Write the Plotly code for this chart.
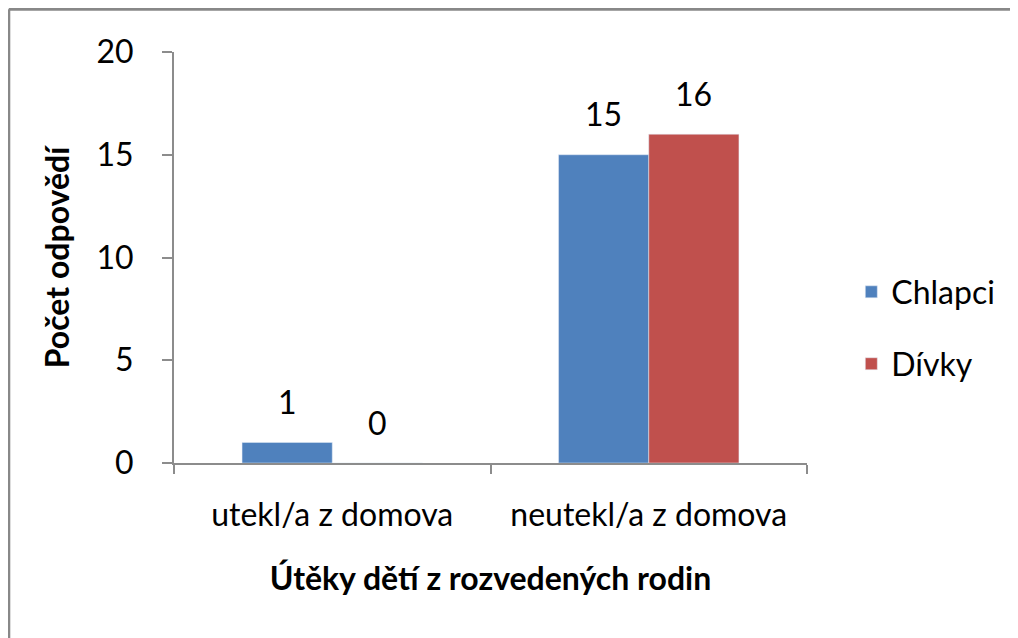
import plotly.graph_objects as go

categories = ["utekl/a z domova", "neutekl/a z domova"]
chlapci = [1, 15]
divky = [0, 16]
y_ticks = [0, 5, 10, 15, 20]

font = "Lato, 'Open Sans', sans-serif"
axis_col = "#8c8c8c"
bargap = 0.43

fig = go.Figure()

fig.add_trace(go.Bar(x=categories, y=chlapci, name="Chlapci",
                     marker=dict(color="#4f81bd"), legend="legend"))
fig.add_trace(go.Bar(x=categories, y=divky, name="Dívky",
                     marker=dict(color="#c0504d"), legend="legend2"))

# value labels above the bars (bar centres sit at +-(1-bargap)/4 of a category)
half = (1 - bargap) / 4
for values, shift in ((chlapci, -half), (divky, half)):
    for i, v in enumerate(values):
        fig.add_annotation(x=i + shift, y=v, text=str(v), showarrow=False,
                           yanchor="middle", yshift=41,
                           font=dict(size=32, color="#000000"))

fig.update_layout(
    width=1010, height=630,
    margin=dict(l=166, r=211, t=44, b=175),
    paper_bgcolor="white", plot_bgcolor="white",
    barmode="group", bargap=bargap, bargroupgap=0,
    showlegend=True,
    font=dict(family=font, size=32, color="#000000"),
    legend=dict(x=1.07, y=0.416, xanchor="left", yanchor="middle",
                font=dict(size=32), bgcolor="rgba(0,0,0,0)"),
    legend2=dict(x=1.07, y=0.241, xanchor="left", yanchor="middle",
                 font=dict(size=32), bgcolor="rgba(0,0,0,0)"),
    xaxis=dict(
        title=dict(text="<b>Útěky dětí z rozvedených rodin</b>",
                   font=dict(size=32), standoff=35),
        showline=True, linecolor=axis_col, linewidth=2,
        ticks="outside", tickson="boundaries", ticklen=9,
        tickcolor=axis_col, tickwidth=2, ticklabelstandoff=23,
        tickfont=dict(size=32), showgrid=False,
    ),
    yaxis=dict(
        title=dict(text="<b>Počet odpovědí</b>", font=dict(size=32), standoff=17),
        range=[0, 20], tickvals=y_ticks,
        showline=True, linecolor=axis_col, linewidth=2,
        ticks="outside", ticklen=10, tickcolor=axis_col, tickwidth=2,
        ticklabelstandoff=22,
        tickfont=dict(size=32), showgrid=False, zeroline=False,
    ),
)

# chart frame (only top and left edges visible in the reference)
fig.add_shape(type="line", xref="paper", yref="paper",
              x0=-0.261, x1=1.34, y0=1.104, y1=1.104,
              line=dict(color="#888888", width=3))
fig.add_shape(type="line", xref="paper", yref="paper",
              x0=-0.261, x1=-0.261, y0=1.104, y1=-0.43,
              line=dict(color="#888888", width=3))

fig.write_html("out.html")
